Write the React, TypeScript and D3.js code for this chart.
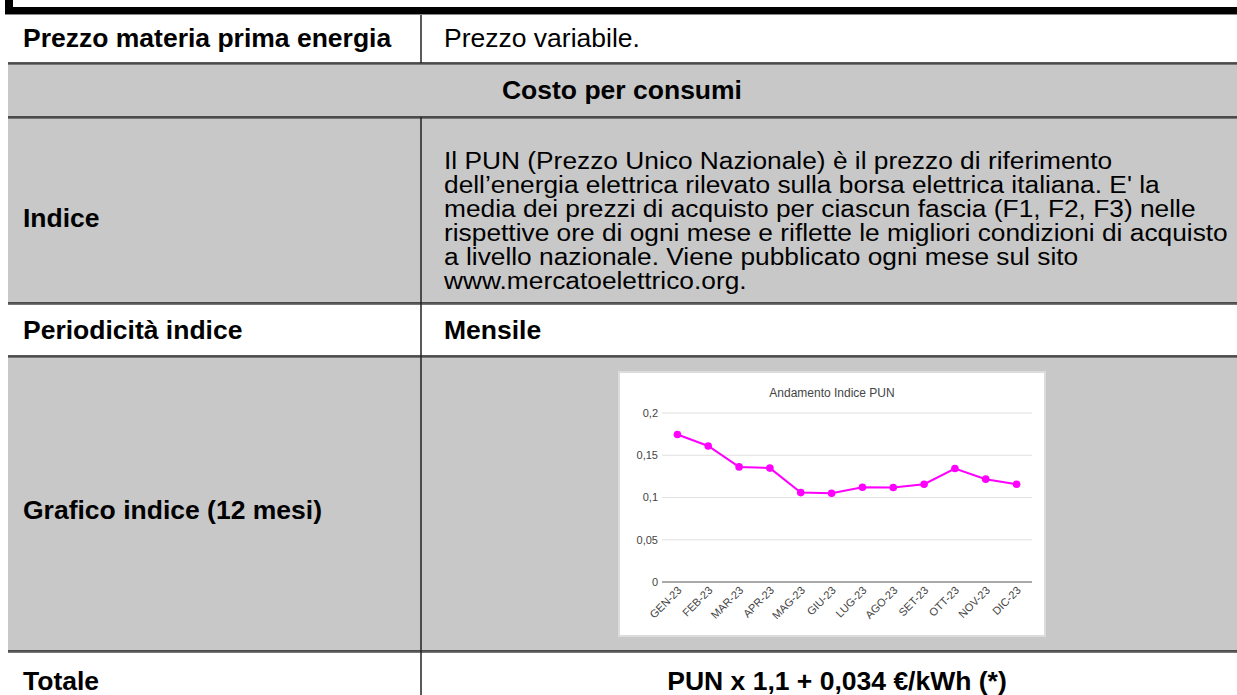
import React, { useEffect, useRef } from "react";
import * as d3 from "d3";

const months = [
  "GEN-23",
  "FEB-23",
  "MAR-23",
  "APR-23",
  "MAG-23",
  "GIU-23",
  "LUG-23",
  "AGO-23",
  "SET-23",
  "OTT-23",
  "NOV-23",
  "DIC-23",
];
const punValues = [
  0.1745, 0.161, 0.1362, 0.1348, 0.1058, 0.1051, 0.1121, 0.1119, 0.1157,
  0.1343, 0.1217, 0.1156,
];
const yTicks = [0, 0.05, 0.1, 0.15, 0.2];

const indiceLines = [
  "Il PUN (Prezzo Unico Nazionale) è il prezzo di riferimento",
  "dell’energia elettrica rilevato sulla borsa elettrica italiana. E' la",
  "media dei prezzi di acquisto per ciascun fascia (F1, F2, F3) nelle",
  "rispettive ore di ogni mese e riflette le migliori condizioni di acquisto",
  "a livello nazionale. Viene pubblicato ogni mese sul sito",
  "www.mercatoelettrico.org.",
];

const W = 1237;
const H = 695;
const font = "'Liberation Sans', Arial, sans-serif";
const grey = "#c8c8c8";
const lineColor = "#222";

// chart box inside the "Grafico indice" cell
const box = { x: 619, y: 372, w: 426, h: 264 };
const margin = { top: 41, right: 13, bottom: 54, left: 43 };

function PunChart() {
  const gRef = useRef<SVGGElement>(null);

  useEffect(() => {
    const root = d3.select(gRef.current);
    root.selectAll("*").remove();

    const left = box.x + margin.left;
    const right = box.x + box.w - margin.right;
    const top = box.y + margin.top;
    const bottom = box.y + box.h - margin.bottom;

    root
      .append("rect")
      .attr("x", box.x)
      .attr("y", box.y)
      .attr("width", box.w)
      .attr("height", box.h)
      .attr("fill", "#fff")
      .attr("stroke", "#dcdcdc")
      .attr("stroke-width", 2);

    root
      .append("text")
      .attr("x", box.x + box.w / 2)
      .attr("y", box.y + 25)
      .attr("text-anchor", "middle")
      .attr("font-size", 12)
      .attr("fill", "#444")
      .text("Andamento Indice PUN");

    const x = d3.scalePoint().domain(months).range([left, right]).padding(0.5);
    const y = d3.scaleLinear().domain([0, 0.2]).range([bottom, top]);

    // grid + y labels
    const fmt = (v: number) => String(+v.toFixed(2)).replace(".", ",");
    const grid = root.append("g");
    yTicks.forEach((t) => {
      grid
        .append("line")
        .attr("x1", left)
        .attr("x2", right)
        .attr("y1", y(t))
        .attr("y2", y(t))
        .attr("stroke", t === 0 ? "#555" : "#e0e0e0")
        .attr("stroke-width", 1);
      grid
        .append("text")
        .attr("x", left - 4)
        .attr("y", y(t))
        .attr("dy", "0.35em")
        .attr("text-anchor", "end")
        .attr("font-size", 11)
        .attr("fill", "#444")
        .text(fmt(t));
    });

    // x labels
    root
      .append("g")
      .selectAll("text")
      .data(months)
      .enter()
      .append("text")
      .attr(
        "transform",
        (d) => `translate(${(x(d) || 0) + 5},${bottom + 9}) rotate(-45)`
      )
      .attr("text-anchor", "end")
      .attr("font-size", 11)
      .attr("fill", "#444")
      .text((d) => d);

    const line = d3
      .line<number>()
      .x((d, i) => x(months[i]) || 0)
      .y((d) => y(d));

    root
      .append("path")
      .datum(punValues)
      .attr("d", line)
      .attr("fill", "none")
      .attr("stroke", "#ff00ff")
      .attr("stroke-width", 2);

    root
      .append("g")
      .selectAll("circle")
      .data(punValues)
      .enter()
      .append("circle")
      .attr("cx", (d, i) => x(months[i]) || 0)
      .attr("cy", (d) => y(d))
      .attr("r", 3.8)
      .attr("fill", "#ff00ff");
  }, []);

  return <g ref={gRef} fontFamily={font} />;
}

export default function App() {
  const rowLines = [63, 117, 303, 356, 651];
  return (
    <svg
      width={W}
      height={H}
      style={{ position: "absolute", left: 0, top: 0, background: "#fff" }}
      fontFamily={font}
    >
      {/* top frame */}
      <rect x={5} y={0} width={8} height={14} fill="#000" />
      <rect x={5} y={7} width={W - 5} height={7} fill="#000" />
      <line x1={5} x2={W} y1={14.5} y2={14.5} stroke="#888" />

      {/* grey rows */}
      <rect x={8} y={63} width={W - 8} height={117 - 63} fill={grey} />
      <rect x={8} y={117} width={W - 8} height={303 - 117} fill={grey} />
      <rect x={8} y={356} width={W - 8} height={651 - 356} fill={grey} />

      {rowLines.map((yy) => (
        <g key={yy}>
          <line x1={8} x2={W} y1={yy} y2={yy} stroke={lineColor} strokeWidth={1.5} />
          <line x1={8} x2={W} y1={yy + 1.5} y2={yy + 1.5} stroke="#777" strokeWidth={1} />
        </g>
      ))}
      <line x1={421} x2={421} y1={15} y2={63} stroke={lineColor} strokeWidth={1.5} />
      <line x1={421} x2={421} y1={117} y2={H} stroke={lineColor} strokeWidth={1.5} />

      <g fontSize={26.5} fill="#000">
        <text x={23} y={47} fontWeight="bold">Prezzo materia prima energia</text>
        <text x={444} y={47}>Prezzo variabile.</text>

        <text x={622} y={99} fontWeight="bold" textAnchor="middle">
          Costo per consumi
        </text>

        <text x={23} y={227} fontWeight="bold">Indice</text>
        {/* paragraph glyphs are slightly wide in the source, so stretch a bit */}
        <g transform="translate(444,169) scale(1.12,1)">
          {indiceLines.map((l, i) => (
            <text key={i} x={0} y={i * 24} fontSize={23.5}>
              {l}
            </text>
          ))}
        </g>

        <text x={23} y={339} fontWeight="bold">Periodicità indice</text>
        <text x={444} y={339} fontWeight="bold">Mensile</text>

        <text x={23} y={519} fontWeight="bold">Grafico indice (12 mesi)</text>

        <text x={23} y={690} fontWeight="bold">Totale</text>
        <text x={837} y={690} fontWeight="bold" textAnchor="middle">
          PUN x 1,1 + 0,034 €/kWh (*)
        </text>
      </g>

      <PunChart />
    </svg>
  );
}
